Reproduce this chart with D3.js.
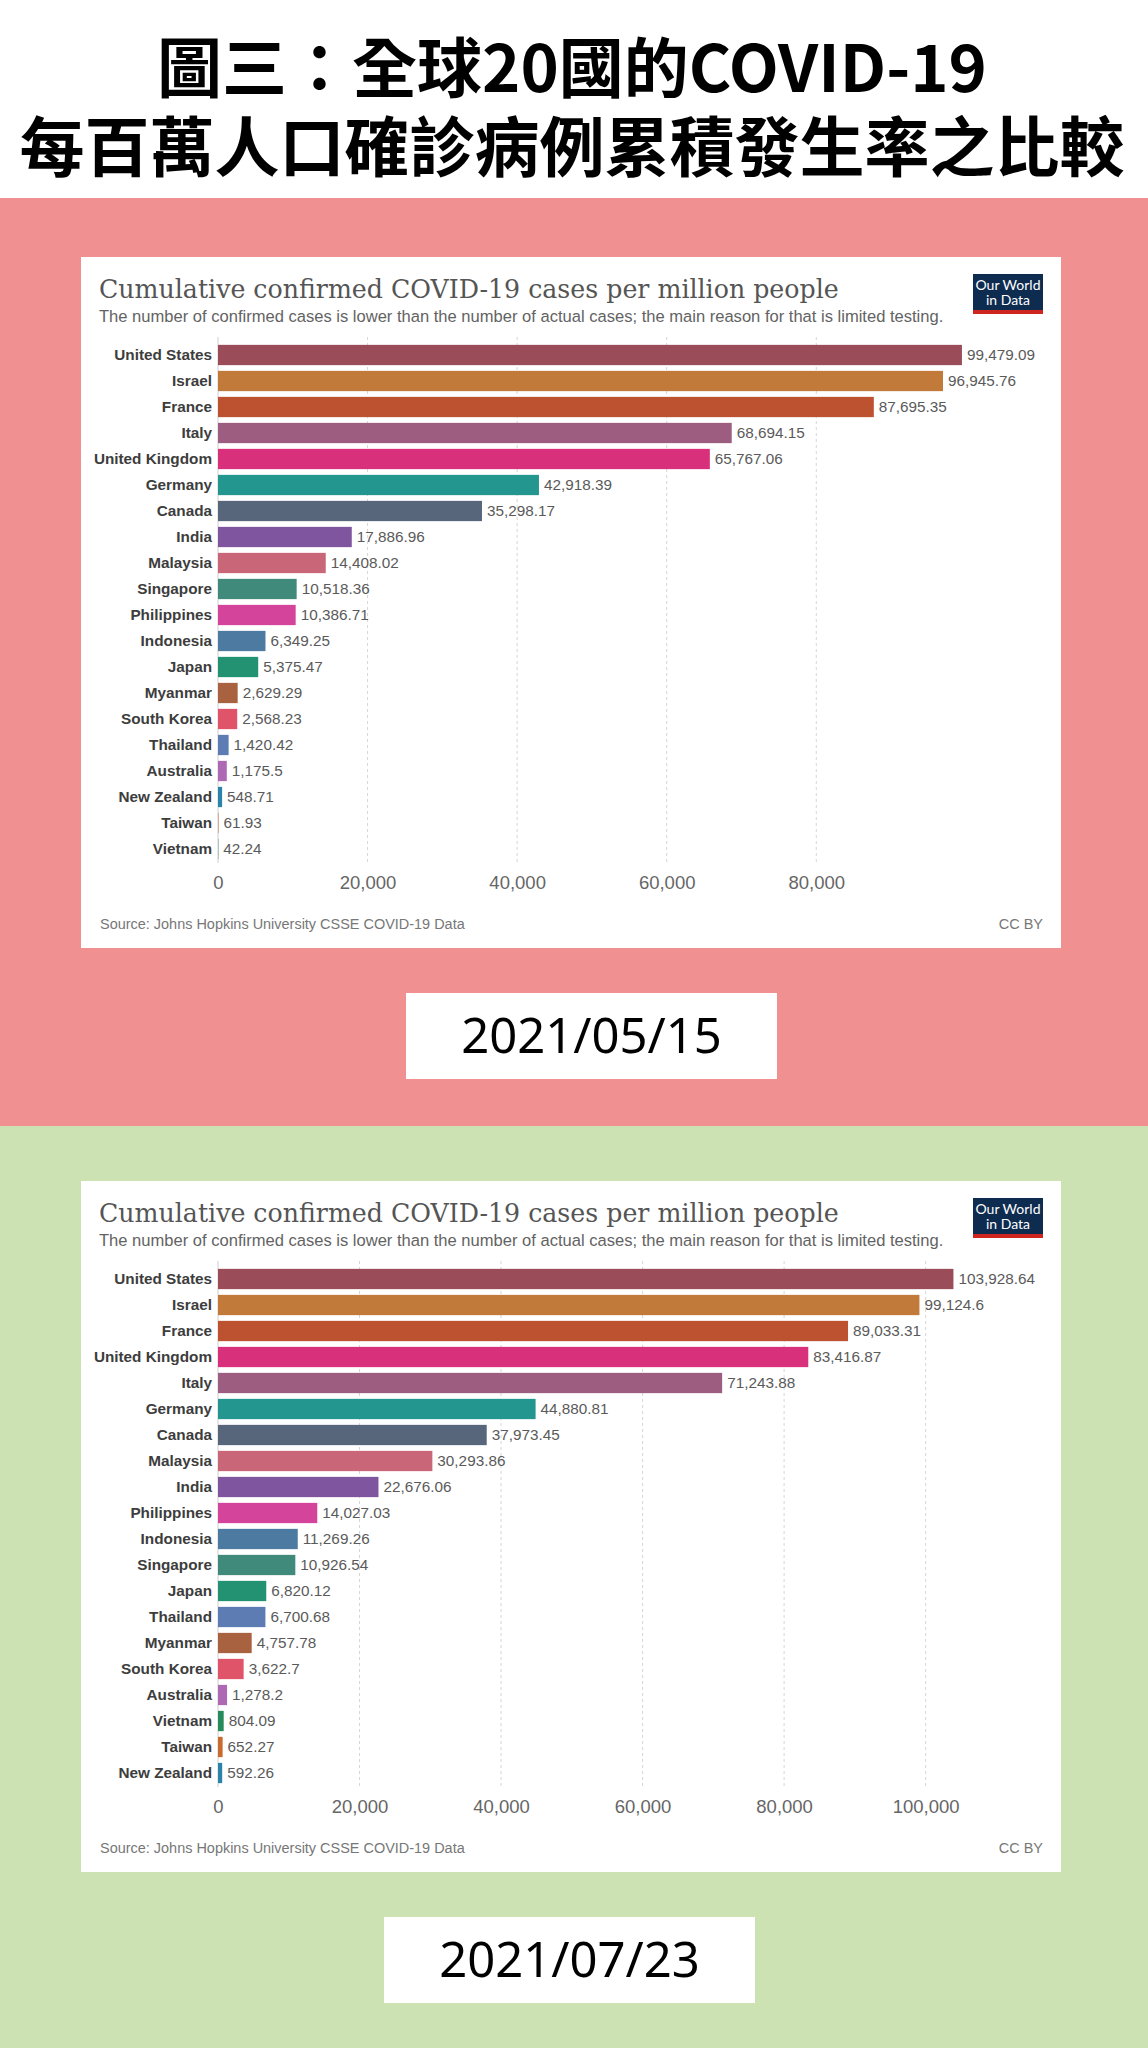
<!DOCTYPE html>
<html>
<head>
<meta charset="utf-8">
<script src="https://cdn.jsdelivr.net/npm/d3@7"></script>
<style>
  body { margin: 0; background: #fff; }
  svg { display: block; }
</style>
</head>
<body>
<svg id="chart" width="1148" height="2048"></svg>
<script>
// текст
const pageTitle = ["圖三：全球20國的COVID-19", "每百萬人口確診病例累積發生率之比較"];
const chartTitle = "Cumulative confirmed COVID-19 cases per million people";
const chartSubtitle = "The number of confirmed cases is lower than the number of actual cases; the main reason for that is limited testing.";
const sourceText = "Source: Johns Hopkins University CSSE COVID-19 Data";
const licenseText = "CC BY";
const logoLines = ["Our World", "in Data"];

// 2021/05/15
const dateMay = "2021/05/15";
const countriesMay = ["United States", "Israel", "France", "Italy", "United Kingdom", "Germany", "Canada",
    "India", "Malaysia", "Singapore", "Philippines", "Indonesia", "Japan", "Myanmar", "South Korea",
    "Thailand", "Australia", "New Zealand", "Taiwan", "Vietnam"];
const valuesMay = [99479.09, 96945.76, 87695.35, 68694.15, 65767.06, 42918.39, 35298.17,
    17886.96, 14408.02, 10518.36, 10386.71, 6349.25, 5375.47, 2629.29, 2568.23,
    1420.42, 1175.5, 548.71, 61.93, 42.24];
const ticksMay = [0, 20000, 40000, 60000, 80000];

// 2021/07/23
const dateJul = "2021/07/23";
const countriesJul = ["United States", "Israel", "France", "United Kingdom", "Italy", "Germany", "Canada",
    "Malaysia", "India", "Philippines", "Indonesia", "Singapore", "Japan", "Thailand", "Myanmar",
    "South Korea", "Australia", "Vietnam", "Taiwan", "New Zealand"];
const valuesJul = [103928.64, 99124.6, 89033.31, 83416.87, 71243.88, 44880.81, 37973.45,
    30293.86, 22676.06, 14027.03, 11269.26, 10926.54, 6820.12, 6700.68, 4757.78,
    3622.7, 1278.2, 804.09, 652.27, 592.26];
const ticksJul = [0, 20000, 40000, 60000, 80000, 100000];

// цвета стран
const countryColor = {
    "United States": "#9a4d58", "Israel": "#c17a3a", "France": "#bd5230", "Italy": "#9c5d80",
    "United Kingdom": "#d9307b", "Germany": "#23968f", "Canada": "#58667c", "India": "#7f559f",
    "Malaysia": "#c96779", "Singapore": "#3f8a7b", "Philippines": "#d5449b", "Indonesia": "#4d7aa0",
    "Japan": "#229272", "Myanmar": "#a8623f", "South Korea": "#df5469", "Thailand": "#5c7cb3",
    "Australia": "#ae69b5", "New Zealand": "#2a84aa", "Taiwan": "#c96a2e", "Vietnam": "#268a5a"
};

const sans = "'Liberation Sans', Arial, sans-serif";
const fmt = d3.format(",");

const svg = d3.select("#chart");

// подгонка шрифта под ширину из оригинала
function fitWidth(sel, size, width) {
    sel.attr("font-size", size);
    const w = sel.node().getComputedTextLength();
    sel.attr("font-size", size * width / w);
}

// фон
svg.append("rect").attr("width", 1148).attr("height", 2048).attr("fill", "#fff");
svg.append("rect").attr("x", 0).attr("y", 198).attr("width", 1148).attr("height", 928).attr("fill", "#f19090");
svg.append("rect").attr("x", 0).attr("y", 1126).attr("width", 1148).attr("height", 922).attr("fill", "#cde2b3");

// заголовок страницы
svg.selectAll("text.page-title")
    .data(pageTitle)
    .join("text")
    .attr("class", "page-title")
    .attr("x", 572)
    .attr("y", (d, i) => 92 + i * 79)
    .attr("text-anchor", "middle")
    .attr("font-family", "'Noto Sans CJK TC', 'Noto Sans CJK SC', sans-serif")
    .attr("font-weight", 700)
    .attr("font-size", 65)
    .attr("fill", "#000")
    .text(d => d);

function drawPanel(top, countries, values, ticks, date, dateX) {
    const g = svg.append("g").attr("transform", `translate(0, ${top})`);

    // карточка
    g.append("rect")
        .attr("x", 81).attr("y", 0)
        .attr("width", 980).attr("height", 691)
        .attr("fill", "#fff");

    // заголовок и подзаголовок графика
    const title = g.append("text")
        .attr("x", 99).attr("y", 41)
        .attr("font-family", "'DejaVu Serif', Georgia, serif")
        .attr("fill", "#555")
        .text(chartTitle);
    fitWidth(title, 26, 740);

    const subtitle = g.append("text")
        .attr("x", 99).attr("y", 65)
        .attr("font-family", sans)
        .attr("fill", "#636363")
        .text(chartSubtitle);
    fitWidth(subtitle, 16, 845);

    // логотип
    g.append("rect").attr("x", 973).attr("y", 17).attr("width", 70).attr("height", 40).attr("fill", "#0e2b50");
    g.append("rect").attr("x", 973).attr("y", 53).attr("width", 70).attr("height", 4).attr("fill", "#ce261e");
    g.selectAll("text.logo")
        .data(logoLines)
        .join("text")
        .attr("class", "logo")
        .attr("x", 1008)
        .attr("y", (d, i) => 33 + i * 15)
        .attr("text-anchor", "middle")
        .attr("font-family", "Lato, " + sans)
        .attr("font-size", 14)
        .attr("fill", "#fff")
        .text(d => d);

    const data = countries.map((c, i) => ({ country: c, value: values[i] }));

    // шкала y
    const yScale = d3.scaleBand()
        .domain(countries)
        .range([85, 605])
        .paddingInner(0.22)
        .paddingOuter(0.11);

    // ширина самой длинной подписи значения
    const probe = g.append("text")
        .attr("font-family", sans).attr("font-size", 15.3)
        .text(fmt(d3.max(values)));
    const labelW = probe.node().getComputedTextLength();
    probe.remove();

    // шкала x
    const xScale = d3.scaleLinear()
        .domain([0, d3.max(values)])
        .range([218, 1035 - 5 - labelW]);

    // сетка
    g.append("g")
        .selectAll("line")
        .data(ticks.filter(t => t > 0))
        .join("line")
        .attr("x1", d => xScale(d)).attr("x2", d => xScale(d))
        .attr("y1", 80).attr("y2", 606)
        .attr("stroke", "#d6d6d6")
        .attr("stroke-width", 1)
        .attr("stroke-dasharray", "3,3");

    g.append("line")
        .attr("x1", xScale(0)).attr("x2", xScale(0))
        .attr("y1", 80).attr("y2", 606)
        .attr("stroke", "#cfcfcf")
        .attr("stroke-width", 1);

    // ось x
    const xAxis = g.append("g")
        .attr("transform", "translate(0, 606)")
        .call(d3.axisBottom(xScale).tickValues(ticks).tickSize(0).tickPadding(13).tickFormat(fmt));
    xAxis.select(".domain").remove();
    xAxis.selectAll("text")
        .attr("font-family", sans)
        .attr("font-size", 18.5)
        .attr("fill", "#666");

    // ось y (страны)
    const yAxis = g.append("g")
        .attr("transform", "translate(218, 0)")
        .call(d3.axisLeft(yScale).tickSize(0).tickPadding(6));
    yAxis.select(".domain").remove();
    yAxis.selectAll("text")
        .attr("font-family", sans)
        .attr("font-size", 15.3)
        .attr("font-weight", 700)
        .attr("fill", "#3d3d3d");

    // столбцы
    g.append("g")
        .selectAll("rect")
        .data(data)
        .join("rect")
        .attr("x", xScale(0))
        .attr("y", d => yScale(d.country))
        .attr("width", d => xScale(d.value) - xScale(0))
        .attr("height", yScale.bandwidth())
        .attr("fill", d => countryColor[d.country]);

    // подписи значений
    g.append("g")
        .selectAll("text")
        .data(data)
        .join("text")
        .attr("x", d => xScale(d.value) + 5)
        .attr("y", d => yScale(d.country) + yScale.bandwidth() / 2)
        .attr("dy", "0.35em")
        .attr("font-family", sans)
        .attr("font-size", 15.3)
        .attr("fill", "#5a5a5a")
        .text(d => fmt(d.value));

    // источник
    const source = g.append("text")
        .attr("x", 100).attr("y", 672)
        .attr("font-family", sans)
        .attr("fill", "#777")
        .text(sourceText);
    fitWidth(source, 13.5, 365);
    g.append("text")
        .attr("x", 1043).attr("y", 672)
        .attr("text-anchor", "end")
        .attr("font-family", sans)
        .attr("font-size", source.attr("font-size"))
        .attr("fill", "#777")
        .text(licenseText);

    // дата
    g.append("rect")
        .attr("x", dateX).attr("y", 736)
        .attr("width", 371).attr("height", 86)
        .attr("fill", "#fff");
    g.append("text")
        .attr("x", dateX + 185.5).attr("y", 796)
        .attr("text-anchor", "middle")
        .attr("font-family", "'Noto Sans', sans-serif")
        .attr("font-size", 49)
        .attr("fill", "#000")
        .text(date);
}

drawPanel(257, countriesMay, valuesMay, ticksMay, dateMay, 406);
drawPanel(1181, countriesJul, valuesJul, ticksJul, dateJul, 384);
</script>
</body>
</html>
